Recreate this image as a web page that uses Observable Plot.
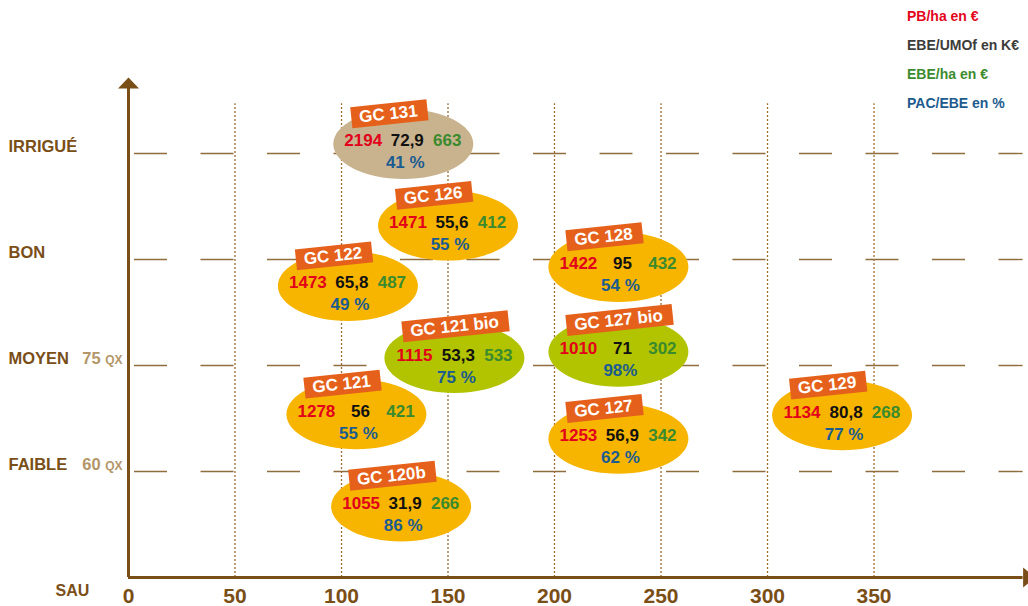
<!DOCTYPE html>
<html>
<head>
<meta charset="utf-8">
<script src="https://cdn.jsdelivr.net/npm/d3@7"></script>
<script src="https://cdn.jsdelivr.net/npm/@observablehq/plot@0.6"></script>
<style>
  html, body { margin: 0; padding: 0; background: #fff; }
  #wrap { position: relative; width: 1028px; height: 606px; overflow: hidden; }
  #legend { position: absolute; left: 907px; top: 2px; font-family: "Liberation Sans", Arial, sans-serif; font-weight: bold; font-size: 14px; line-height: 29px; }
</style>
</head>
<body>
<div id="wrap">
  <div id="chart"></div>
  <div id="legend"></div>
</div>
<script>
// ---- data ----
const groups  = ["GC 131", "GC 126", "GC 122", "GC 128", "GC 121 bio", "GC 127 bio", "GC 121", "GC 127", "GC 129", "GC 120b"];
const sau     = [129, 150, 103, 230, 153, 230, 107, 230, 335, 128];
const level   = [4.09, 3.32, 2.75, 2.93, 2.07, 2.13, 1.54, 1.31, 1.53, 0.67];
const system  = ["irrigué", "conv", "conv", "conv", "bio", "bio", "conv", "conv", "conv", "conv"];
const pbHa    = ["2194", "1471", "1473", "1422", "1115", "1010", "1278", "1253", "1134", "1055"];
const ebeUmo  = ["72,9", "55,6", "65,8", "95", "53,3", "71", "56", "56,9", "80,8", "31,9"];
const ebeHa   = ["663", "412", "487", "432", "533", "302", "421", "342", "268", "266"];
const pacEbe  = ["41 %", "55 %", "49 %", "54 %", "75 %", "98%", "55 %", "62 %", "77 %", "86 %"];

const levels      = [1, 2, 3, 4];
const levelNames  = ["FAIBLE", "MOYEN", "BON", "IRRIGUÉ"];
const yieldLabels = ["60 qx", "75 qx", "", ""];
const xTicks      = [0, 50, 100, 150, 200, 250, 300, 350];
const legendItems = ["PB/ha en €", "EBE/UMOf en K€", "EBE/ha en €", "PAC/EBE en %"];

// ---- styles ----
const FONT = "'Liberation Sans', Arial, sans-serif";
const axisColor = "#7a4e17";
const gridColor = "#9c6f35";
const dashColor = "#8f6d3e";
const yieldColor = "#b39669";
const tagColor = "#e5611b";
const systemKeys = ["conv", "bio", "irrigué"];
const systemColors = ["#f7b500", "#b2c300", "#c9b38f"];
const numColors = { pb: "#e2001a", umo: "#111111", ha: "#3a8a2e", pac: "#1b5c91" };
const legendColors = ["#e3061b", "#3c3c3b", "#3d8b2f", "#1d5b8f"];

const records = groups.map((g, i) => ({
  group: g, sau: sau[i], level: level[i], system: system[i],
  pb: pbHa[i], umo: ebeUmo[i], ha: ebeHa[i], pac: pacEbe[i]
}));

// measure tag width
const cnv = document.createElement("canvas").getContext("2d");
cnv.font = "bold 17px " + FONT;
const tagWidth = (s) => cnv.measureText(s).width;

const ANG = -6 * Math.PI / 180;
const ellipseSymbol = {
  draw(ctx) {
    const rx = 70, ry = 35, k = 0.5523;
    ctx.moveTo(rx, 0);
    ctx.bezierCurveTo(rx, ry * k, rx * k, ry, 0, ry);
    ctx.bezierCurveTo(-rx * k, ry, -rx, ry * k, -rx, 0);
    ctx.bezierCurveTo(-rx, -ry * k, -rx * k, -ry, 0, -ry);
    ctx.bezierCurveTo(rx * k, -ry, rx, -ry * k, rx, 0);
    ctx.closePath();
  }
};
const tagSymbol = {
  draw(ctx, size) {
    const w = Math.sqrt(size / Math.PI);
    const h = 21, l = -8, r = w + 10;
    const pts = [[l, -h / 2], [r, -h / 2], [r, h / 2], [l, h / 2]].map(([x, y]) =>
      [x * Math.cos(ANG) - y * Math.sin(ANG), x * Math.sin(ANG) + y * Math.cos(ANG)]);
    ctx.moveTo(pts[0][0], pts[0][1]);
    for (let i = 1; i < 4; i++) ctx.lineTo(pts[i][0], pts[i][1]);
    ctx.closePath();
  }
};
const upArrow = { draw(ctx) { ctx.moveTo(0, 0); ctx.lineTo(10.5, 11); ctx.lineTo(-10.5, 11); ctx.closePath(); } };
const rightArrow = { draw(ctx) { ctx.moveTo(0, -10); ctx.lineTo(12, 0); ctx.lineTo(0, 10); ctx.closePath(); } };

const gridTop = 4.47;
const yArrowTip = 4.717;
const xEnd = 420;

const txt = (field, dx, dy, color) => Plot.text(records, {
  x: "sau", y: "level", text: field, dx, dy, fill: color,
  fontSize: 17, fontWeight: "bold", textAnchor: "middle"
});

const chart = Plot.plot({
  width: 1028, height: 606,
  marginLeft: 128, marginRight: 5.4, marginTop: 47, marginBottom: 29,
  x: { domain: [0, xEnd], axis: null },
  y: { domain: [0, 5], axis: null },
  r: { type: "identity" },
  color: { domain: systemKeys, range: systemColors },
  style: { fontFamily: FONT, background: "white", overflow: "hidden" },
  marks: [
    Plot.ruleY(levels, { y: d => d, stroke: dashColor, strokeWidth: 1.4, strokeDasharray: "33,33.5", strokeDashoffset: 60.5 }),
    Plot.ruleX(xTicks.filter(d => d > 0), { x: d => d, y1: 0, y2: gridTop, stroke: gridColor, strokeWidth: 1.3, strokeDasharray: "2,2" }),
    Plot.ruleY([0], { y: d => d, stroke: axisColor, strokeWidth: 3 }),
    Plot.ruleX([0], { x: d => d, y1: 0, y2: yArrowTip - 0.06, stroke: axisColor, strokeWidth: 3 }),
    Plot.dot([{ x: 0, y: yArrowTip }], { x: "x", y: "y", symbol: upArrow, fill: axisColor, stroke: "none" }),
    Plot.dot([{ x: xEnd, y: 0 }], { x: "x", y: "y", symbol: rightArrow, fill: axisColor, stroke: "none" }),
    // ellipses
    Plot.dot(records, { x: "sau", y: "level", symbol: ellipseSymbol, fill: "system", stroke: "none" }),
    // tags
    Plot.dot(records, { x: "sau", y: "level", symbol: tagSymbol, r: d => tagWidth(d.group), fill: tagColor, stroke: "none", dx: -44, dy: -27, sort: null }),
    Plot.text(records, { x: "sau", y: "level", text: "group", dx: -44, dy: -27, rotate: -6, textAnchor: "start", fill: "white", fontSize: 17, fontWeight: "bold" }),
    // values
    txt("pb", -40, -3, numColors.pb),
    txt("umo", 4, -3, numColors.umo),
    txt("ha", 44, -3, numColors.ha),
    txt("pac", 2, 19, numColors.pac),
    // y labels
    Plot.text(levels, { y: d => d, text: levelNames, frameAnchor: "left", dx: -120, dy: -7, textAnchor: "start", fill: axisColor, fontSize: 16.5, fontWeight: "bold" }),
    Plot.text(levels, { y: d => d, text: yieldLabels, frameAnchor: "left", dx: -6, dy: -7, textAnchor: "end", fill: yieldColor, fontSize: 16.5, fontWeight: "bold", fontVariant: "small-caps" }),
    // x labels
    Plot.text(xTicks, { x: d => d, y: 0, text: d => String(d), dy: 19, fill: axisColor, fontSize: 21, fontWeight: "bold" }),
    Plot.text(["SAU"], { frameAnchor: "bottom-left", text: d => d, dx: -56, dy: 13, textAnchor: "middle", lineAnchor: "middle", fill: axisColor, fontSize: 16, fontWeight: "bold" })
  ]
});
document.getElementById("chart").appendChild(chart);

const legend = document.getElementById("legend");
legendItems.forEach((t, i) => {
  const d = document.createElement("div");
  d.textContent = t;
  d.style.color = legendColors[i];
  legend.appendChild(d);
});
</script>
</body>
</html>
